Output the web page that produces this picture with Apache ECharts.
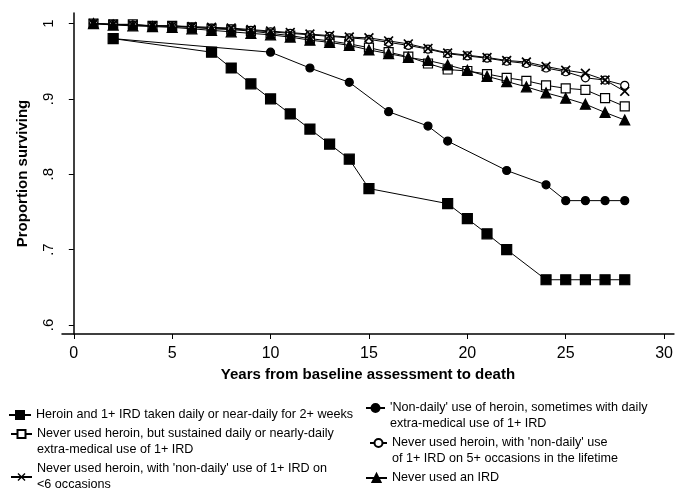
<!DOCTYPE html>
<html>
<head>
<meta charset="utf-8">
<script src="https://cdn.jsdelivr.net/npm/echarts@6/dist/echarts.min.js"></script>
<style>html,body{margin:0;padding:0;background:#fff}#c{width:676px;height:489px}</style>
</head>
<body>
<div id="c"></div>
<script>
// ---------- data ----------
const seriesNames = [
  "Heroin and 1+ IRD taken daily or near-daily for 2+ weeks",
  "'Non-daily' use of heroin, sometimes with daily extra-medical use of 1+ IRD",
  "Never used heroin, but sustained daily or nearly-daily extra-medical use of 1+ IRD",
  "Never used heroin, with 'non-daily' use of 1+ IRD on 5+ occasions in the lifetime",
  "Never used heroin, with 'non-daily' use of 1+ IRD on <6 occasions",
  "Never used an IRD"
];
const legendLines = [
  ["Heroin and 1+ IRD taken daily or near-daily for 2+ weeks"],
  ["'Non-daily' use of heroin, sometimes with daily", "extra-medical use of 1+ IRD"],
  ["Never used heroin, but sustained daily or nearly-daily", "extra-medical use of 1+ IRD"],
  ["Never used heroin, with 'non-daily' use", "of 1+ IRD on 5+ occasions in the lifetime"],
  ["Never used heroin, with 'non-daily' use of 1+ IRD on", "<6 occasions"],
  ["Never used an IRD"]
];

const heroinDailyYears = [2, 7, 8, 9, 10, 11, 12, 13, 14, 15, 19, 20, 21, 22, 24, 25, 26, 27, 28];
const heroinDailyVals  = [0.98, 0.962, 0.941, 0.92, 0.90, 0.88, 0.86, 0.84, 0.82, 0.781, 0.761, 0.741, 0.721, 0.70, 0.66, 0.66, 0.66, 0.66, 0.66];

const nonDailyHeroinYears = [2, 10, 12, 14, 16, 18, 19, 22, 24, 25, 26, 27, 28];
const nonDailyHeroinVals  = [0.98, 0.962, 0.941, 0.922, 0.883, 0.864, 0.844, 0.805, 0.786, 0.765, 0.765, 0.765, 0.765];

const allYears = [1, 2, 3, 4, 5, 6, 7, 8, 9, 10, 11, 12, 13, 14, 15, 16, 17, 18, 19, 20, 21, 22, 23, 24, 25, 26, 27, 28];
const sustainedIRDVals = [1.0, 0.999, 0.999, 0.997, 0.997, 0.995, 0.993, 0.992, 0.990, 0.987, 0.984, 0.980, 0.977, 0.973, 0.968, 0.962, 0.956, 0.947, 0.939, 0.937, 0.933, 0.928, 0.924, 0.918, 0.914, 0.912, 0.901, 0.890];
const nonDaily5Vals    = [1.0, 0.999, 0.998, 0.997, 0.996, 0.995, 0.994, 0.993, 0.991, 0.989, 0.987, 0.985, 0.983, 0.981, 0.979, 0.975, 0.971, 0.966, 0.960, 0.957, 0.954, 0.950, 0.947, 0.941, 0.936, 0.928, 0.925, 0.918];
const nonDailyLt6Vals  = [1.0, 0.999, 0.998, 0.997, 0.997, 0.996, 0.995, 0.994, 0.992, 0.990, 0.988, 0.986, 0.984, 0.982, 0.981, 0.977, 0.973, 0.967, 0.961, 0.958, 0.955, 0.951, 0.949, 0.943, 0.938, 0.934, 0.925, 0.910];
const neverIRDVals     = [1.0, 0.998, 0.997, 0.996, 0.995, 0.993, 0.991, 0.989, 0.987, 0.985, 0.982, 0.978, 0.975, 0.971, 0.965, 0.960, 0.955, 0.951, 0.945, 0.938, 0.930, 0.923, 0.916, 0.908, 0.901, 0.893, 0.882, 0.872];

const xTicks = [0, 5, 10, 15, 20, 25, 30];
const yTicks = [0.6, 0.7, 0.8, 0.9, 1.0];
const yTickLabels = [".6", ".7", ".8", ".9", "1"];

// ---------- chart ----------
const FONT = "'Liberation Sans', Arial, sans-serif";
const pairs = (xs, ys) => xs.map((x, i) => [x, ys[i]]);
const XPATH = 'path://M0,1.2L1.2,0L5,3.8L8.8,0L10,1.2L6.2,5L10,8.8L8.8,10L5,6.2L1.2,10L0,8.8L3.8,5Z';

const specs = [
  {data: pairs(heroinDailyYears, heroinDailyVals), symbol: 'rect', size: 10, fill: '#000'},
  {data: pairs(nonDailyHeroinYears, nonDailyHeroinVals), symbol: 'circle', size: 8, fill: '#000'},
  {data: pairs(allYears, sustainedIRDVals), symbol: 'rect', size: 9, fill: '#fff'},
  {data: pairs(allYears, nonDaily5Vals), symbol: 'circle', size: 8, fill: '#fff'},
  {data: pairs(allYears, nonDailyLt6Vals), symbol: XPATH, size: 10, fill: '#000', noBorder: true},
  {data: pairs(allYears, neverIRDVals), symbol: 'triangle', size: 10, fill: '#000'}
];

const series = specs.map((s, i) => ({
  name: seriesNames[i],
  type: 'line',
  data: s.data,
  symbol: s.symbol,
  symbolSize: s.size,
  showSymbol: true,
  animation: false,
  lineStyle: {color: '#000', width: 1},
  itemStyle: {color: s.fill, borderColor: '#000', borderWidth: s.noBorder ? 0 : 1.2},
  z: 2 + i
}));

// legend placement; "first" = icon aligned with the first text line
const legendPos = [
  {left: 8,   top: 407, w: 22, first: false},
  {left: 365, top: 384, w: 19, first: true},
  {left: 10,  top: 410, w: 21, first: true},
  {left: 369, top: 419, w: 17, first: true},
  {left: 10,  top: 461, w: 21, first: false},
  {left: 365, top: 470, w: 21, first: false}
];
const LH = 16;
const legends = legendPos.map((p, i) => ({
  show: true,
  data: [seriesNames[i]],
  left: p.left,
  top: p.top,
  padding: 0,
  itemWidth: p.w,
  itemHeight: 10,
  selectedMode: false,
  formatter: () => (p.first ? '\n' : '') + legendLines[i].join('\n'),
  textStyle: {fontFamily: FONT, fontSize: 12.6, color: '#000', lineHeight: LH}
}));

const chart = echarts.init(document.getElementById('c'), null, {renderer: 'canvas'});
chart.setOption({
  backgroundColor: '#fff',
  animation: false,
  grid: {left: 62, right: 0, top: 13, bottom: 155, containLabel: false},
  xAxis: {
    type: 'value', min: -0.6, max: 30.5,
    name: 'Years from baseline assessment to death',
    nameLocation: 'middle', nameGap: 32,
    nameTextStyle: {fontFamily: FONT, fontSize: 15, fontWeight: 'bold', color: '#000'},
    axisLine: {show: true, lineStyle: {color: '#000', width: 1.5}},
    axisTick: {show: true, length: 5, lineStyle: {color: '#000', width: 1}, customValues: xTicks},
    axisLabel: {color: '#000', fontFamily: FONT, fontSize: 16, margin: 12, customValues: xTicks},
    splitLine: {show: false}
  },
  yAxis: {
    type: 'value', min: 0.588, max: 1.014,
    name: 'Proportion surviving',
    nameLocation: 'middle', nameGap: 32,
    nameRotate: 90,
    nameTextStyle: {fontFamily: FONT, fontSize: 15, fontWeight: 'bold', color: '#000'},
    axisLine: {show: true, lineStyle: {color: '#000', width: 1.5}},
    axisTick: {show: true, length: 5, lineStyle: {color: '#000', width: 1}, customValues: yTicks},
    axisLabel: {
      color: '#000', fontFamily: FONT, fontSize: 15, margin: 6, rotate: 90,
      customValues: yTicks,
      formatter: v => { const k = yTicks.findIndex(t => Math.abs(t - v) < 1e-6); return k >= 0 ? yTickLabels[k] : ''; }
    },
    splitLine: {show: false}
  },
  legend: legends,
  series: series
});
</script>
</body>
</html>
